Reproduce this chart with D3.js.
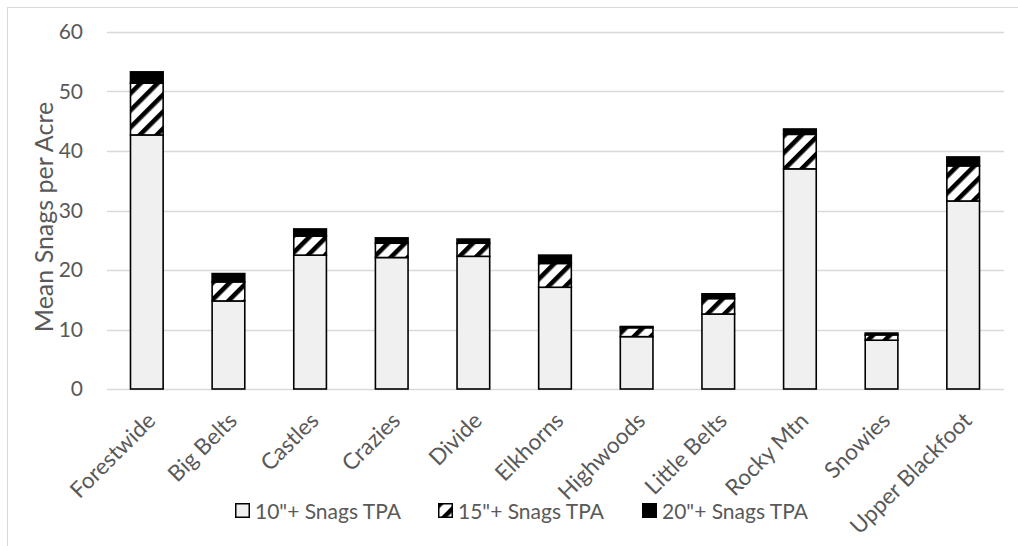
<!DOCTYPE html>
<html>
<head>
<meta charset="utf-8">
<script src="https://cdn.jsdelivr.net/npm/d3@7"></script>
<style>
  html, body { margin: 0; padding: 0; background: #fff; }
  svg { display: block; }
  text { font-family: Lato, "Open Sans", sans-serif; fill: #595959; }
</style>
</head>
<body>
<svg id="chart" width="1018" height="546"></svg>
<script>
// Mean snags per acre by geographic area, stacked by diameter class
const categories = ["Forestwide", "Big Belts", "Castles", "Crazies", "Divide", "Elkhorns",
                    "Highwoods", "Little Belts", "Rocky Mtn", "Snowies", "Upper Blackfoot"];
const snags10 = [42.7, 14.8, 22.5, 22.1, 22.3, 17.1, 8.8, 12.6, 37.0, 8.2, 31.6];
const snags15 = [8.7, 3.2, 3.2, 2.4, 2.2, 4.0, 1.5, 2.6, 5.8, 0.9, 5.9];
const snags20 = [1.9, 1.4, 1.2, 0.9, 0.7, 1.4, 0.2, 0.8, 0.9, 0.3, 1.5];
const seriesNames = ["10\"+ Snags TPA", "15\"+ Snags TPA", "20\"+ Snags TPA"];
const yTicks = [0, 10, 20, 30, 40, 50, 60];
const yTitle = "Mean Snags per Acre";

const rows = categories.map((c, i) => ({
  cat: c, s10: snags10[i], s15: snags15[i], s20: snags20[i]
}));
const keys = ["s10", "s15", "s20"];
const stacked = d3.stack().keys(keys)(rows);

const svg = d3.select("#chart");
const defs = svg.append("defs");

// wide upward-diagonal hatch
const pat = defs.append("pattern")
  .attr("id", "hatch")
  .attr("patternUnits", "userSpaceOnUse")
  .attr("width", 12).attr("height", 12)
  .attr("patternTransform", "rotate(45)");
pat.append("rect").attr("width", 12).attr("height", 12).attr("fill", "#fff");
pat.append("rect").attr("x", 0).attr("y", 0).attr("width", 4.6).attr("height", 12).attr("fill", "#000");

const fills = { s10: "#f0f0f0", s15: "url(#hatch)", s20: "#000" };

// chart frame
svg.append("rect")
  .attr("x", 7.5).attr("y", 7.5)
  .attr("width", 1200).attr("height", 700)
  .attr("fill", "none").attr("stroke", "#d9d9d9").attr("stroke-width", 1);

const x = d3.scaleBand().domain(categories).range([106, 1004])
  .paddingInner(0.6).paddingOuter(0.3);
const y = d3.scaleLinear().domain([0, 60]).range([389, 32]);

// gridlines and labels from the left axis
const yAxis = d3.axisLeft(y).tickValues(yTicks).tickSize(0).tickPadding(0);
const gy = svg.append("g").attr("transform", "translate(83,0)").call(yAxis);
gy.select(".domain").remove();
gy.selectAll("text")
  .attr("x", 0)
  .style("font-size", "21px")
  .style("font-family", "Lato, 'Open Sans', sans-serif")
  .attr("fill", "#595959");

svg.append("g").selectAll("line")
  .data(yTicks)
  .join("line")
  .attr("x1", 107).attr("x2", 1004)
  .attr("y1", d => Math.round(y(d)) + 0.5).attr("y2", d => Math.round(y(d)) + 0.5)
  .attr("stroke", "#d9d9d9").attr("stroke-width", 1.5);

// stacked bars
svg.append("g").selectAll("g")
  .data(stacked)
  .join("g")
  .attr("fill", d => fills[d.key])
  .selectAll("rect")
  .data(d => d)
  .join("rect")
  .attr("x", d => x(d.data.cat))
  .attr("width", x.bandwidth())
  .attr("y", d => y(d[1]))
  .attr("height", d => y(d[0]) - y(d[1]))
  .attr("stroke", "#000")
  .attr("stroke-width", 1.6);

// category labels along the bottom
const xAxis = d3.axisBottom(x).tickSize(0).tickPadding(0);
const gx = svg.append("g").attr("transform", "translate(0,389)").call(xAxis);
gx.select(".domain").remove();
gx.selectAll("text")
  .attr("y", 0).attr("dy", 0)
  .attr("text-anchor", "end")
  .attr("transform", "translate(10,33) rotate(-45)")
  .style("font-size", "22.5px")
  .style("font-family", "Lato, 'Open Sans', sans-serif")
  .attr("fill", "#595959");

// y-axis title
svg.append("text")
  .attr("transform", "translate(53,217) rotate(-90)")
  .attr("text-anchor", "middle")
  .style("font-size", "25px")
  .text(yTitle);

// legend
const legendX = [235, 438, 642];
const lg = svg.append("g").selectAll("g")
  .data(keys)
  .join("g")
  .attr("transform", (d, i) => `translate(${legendX[i]},503)`);
lg.append("rect")
  .attr("x", 0.75).attr("y", 0.75)
  .attr("width", 13.5).attr("height", 13.5)
  .attr("fill", d => fills[d])
  .attr("stroke", "#000").attr("stroke-width", 1.5);
lg.append("text")
  .attr("x", 20).attr("y", 15.5)
  .style("font-size", "21px")
  .text((d, i) => seriesNames[i]);
</script>
</body>
</html>
